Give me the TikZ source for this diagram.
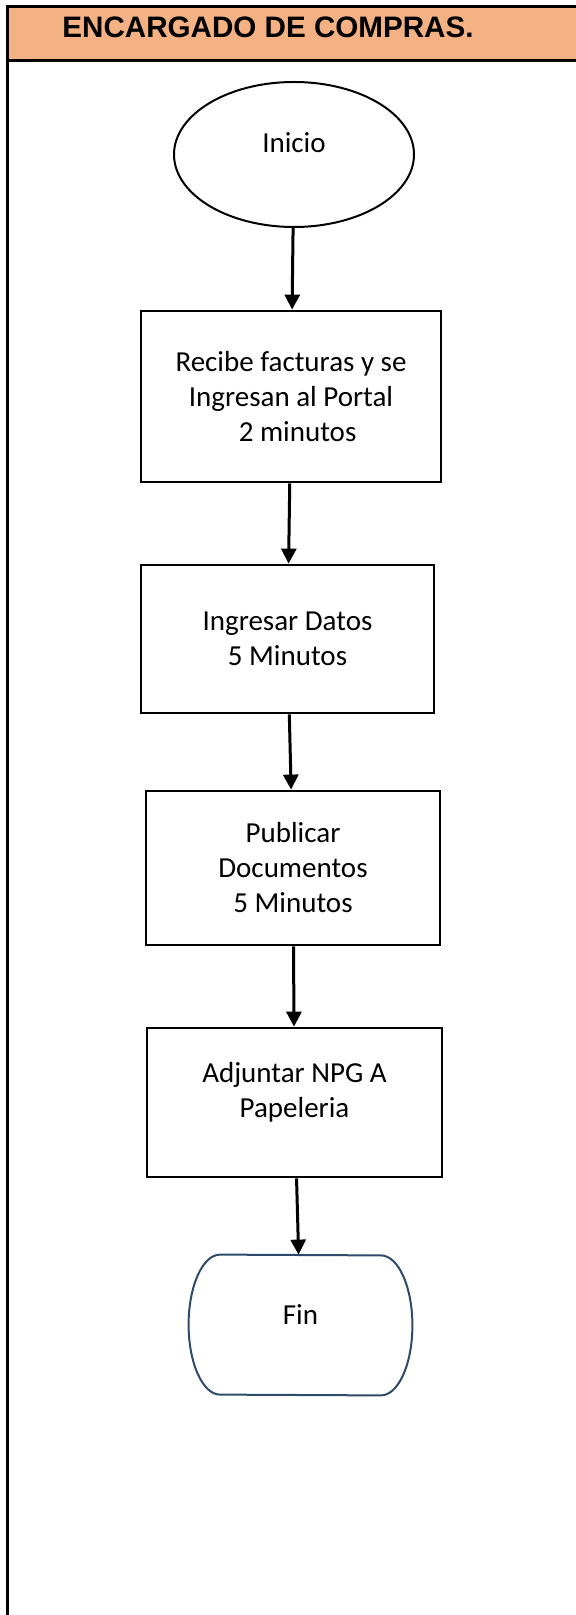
\documentclass[tikz,border=0pt]{standalone}
\usepackage{fontspec}
\setmainfont{Carlito}
\newfontfamily\hdrfont{Liberation Sans}
\usetikzlibrary{arrows.meta,shapes.geometric}
\definecolor{hdrorange}{RGB}{244,177,131}
\definecolor{finblue}{RGB}{46,74,106}

\begin{document}
\begin{tikzpicture}[x=0.5pt, y=-0.5pt]
  \tikzset{paso/.style={draw, line width=1.4pt, align=center, font=\fontsize{14.5pt}{17.5pt}\selectfont},
           flecha/.style={-{Triangle[width=7.5pt,length=7.5pt]}, line width=1.5pt}}
  \useasboundingbox (0,0) rectangle (576,1615);
  % header of the lane
  \fill[hdrorange] (7,7) rectangle (580,61);
  \draw[line width=1.5pt] (7,1620) -- (7,7) -- (580,7);
  \draw[line width=1.5pt] (7,61) -- (580,61);
  \node[font=\hdrfont\bfseries\fontsize{14.8pt}{17pt}\selectfont] (title) at (268,27) {ENCARGADO DE COMPRAS.};
  % flow
  \node[ellipse, draw, line width=1pt, minimum width=120pt, minimum height=72.5pt, text depth=12pt,
        font=\fontsize{14.5pt}{17.5pt}\selectfont] (ini) at (294,154.5) {Inicio};
  \node[paso, minimum width=150pt, minimum height=85.5pt] (rec) at (291,396.5)
    {Recibe facturas y se\\Ingresan al Portal\\\ \ 2 minutos};
  \node[paso, minimum width=146.5pt, minimum height=74pt] (dat) at (287.5,639)
    {Ingresar Datos\\5 Minutos};
  \node[paso, minimum width=147pt, minimum height=77pt] (pub) at (293,868)
    {Publicar\\Documentos\\5 Minutos};
  \node[paso, minimum width=147.5pt, minimum height=74.5pt, text depth=13pt] (adj) at (294.5,1102.5)
    {Adjuntar NPG A\\Papeleria};
  \node[minimum width=80pt, minimum height=70pt, inner sep=0pt, text depth=10pt,
        font=\fontsize{14.5pt}{17.5pt}\selectfont] (fin) at (300.5,1325) {Fin};
  % end shape: flat top and bottom, half-ellipse sides
  \draw[finblue, line width=1pt] (fin.north west) arc[start angle=90, end angle=270, x radius=15.75pt, y radius=35pt]
    -- (fin.south east) arc[start angle=-90, end angle=90, x radius=15.75pt, y radius=35pt] -- cycle;
  \draw[flecha] (ini) -- (rec);
  \draw[flecha] (rec) -- (dat);
  \draw[flecha] (dat) -- (pub);
  \draw[flecha] (pub) -- (adj);
  \draw[flecha] (adj) -- (fin);
\end{tikzpicture}
\end{document}
